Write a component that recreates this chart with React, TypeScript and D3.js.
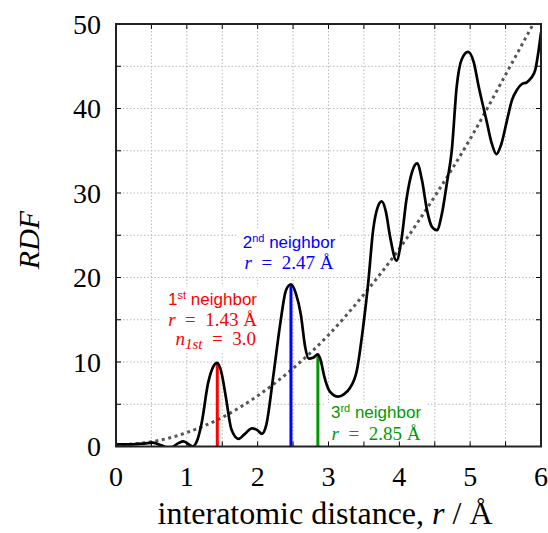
import React from "react";
import * as d3 from "d3";

// Radial distribution function, r in Å
const rdfR = [
  0.0, 0.2, 0.4, 0.52, 0.65, 0.76, 0.88, 0.95, 1.02, 1.08, 1.15, 1.21, 1.3, 1.37, 1.43, 1.49,
  1.55, 1.63, 1.73, 1.82, 1.92, 2.0, 2.06, 2.12, 2.22, 2.32, 2.4, 2.47, 2.54, 2.61, 2.67, 2.72,
  2.78, 2.85, 2.89, 2.94, 3.02, 3.14, 3.22, 3.3, 3.4, 3.49, 3.56, 3.63, 3.69, 3.75, 3.81, 3.87,
  3.96, 4.03, 4.1, 4.18, 4.25, 4.32, 4.39, 4.46, 4.53, 4.6, 4.67, 4.74, 4.81, 4.88, 4.97, 5.05,
  5.12, 5.23, 5.3, 5.37, 5.44, 5.52, 5.59, 5.66, 5.73, 5.8, 5.86, 5.92, 5.96, 6.0,
];
const rdfG = [
  0.25, 0.25, 0.35, 0.45, 0.1, -0.2, 0.4, 0.6, 0.3, 0.0, 0.8, 2.8, 7.5, 9.4, 9.9, 8.7,
  5.9, 2.0, 0.9, 1.5, 2.15, 1.9, 1.5, 2.5, 8.3, 14.6, 18.5, 19.2, 18.1, 15.6, 11.8, 10.4,
  10.5, 10.9, 10.2, 8.3, 6.5, 5.9, 6.2, 6.9, 9.0, 14.2, 19.3, 25.6, 28.2, 29.0, 27.8, 24.8,
  22.0, 24.5, 29.2, 32.5, 33.5, 31.5, 28.0, 26.0, 25.6, 27.5, 31.1, 35.0, 42.6, 45.8, 46.7, 45.5,
  42.6, 38.6, 36.0, 34.6, 35.8, 38.6, 41.0, 42.2, 42.9, 43.1, 43.6, 44.6, 46.5, 49.0,
];

// Reference (ideal density) curve
const refR = [0, 0.5, 1, 1.5, 2, 2.5, 3, 3.5, 4, 4.5, 5, 5.5, 5.89];
const refG = [0.2, 0.55, 1.65, 3.45, 6.0, 9.25, 13.2, 18.0, 23.4, 29.6, 36.4, 44.0, 50];

// Neighbor shells
const neighborR = [1.43, 2.47, 2.85];
const neighborPeak = [9.9, 19.2, 10.9];

const xTicks = [0, 1, 2, 3, 4, 5, 6];
const yTicks = [0, 10, 20, 30, 40, 50];
const xGrid = d3.range(0, 6.01, 0.5);
const yGrid = d3.range(0, 50.1, 5);

const W = 548;
const H = 533;
const L = 116;
const R = 541;
const T = 24;
const B = 446.5;

export default function App() {
  const x = d3.scaleLinear().domain([0, 6]).range([L, R]);
  const y = d3.scaleLinear().domain([0, 50]).range([B, T]);

  const rdfLine = d3
    .line<number>()
    .x((_, i) => x(rdfR[i]))
    .y((d) => y(d))
    .curve(d3.curveMonotoneX)(rdfG) as string;

  const refLine = d3
    .line<number>()
    .x((_, i) => x(refR[i]))
    .y((d) => y(d))
    .curve(d3.curveMonotoneX)(refG) as string;

  const colors = ["#ff0000", "#0000ff", "#009a00"];
  const sans = "'Liberation Sans', Arial, sans-serif";
  const serif = "'Liberation Serif', 'Times New Roman', serif";
  const tick = 5;

  return (
    <svg
      width={W}
      height={H}
      style={{ position: "fixed", left: 0, top: 0, background: "#fff" }}
    >
      <defs>
        <clipPath id="plot">
          <rect x={L} y={T} width={R - L} height={B - T} />
        </clipPath>
      </defs>

      {/* grid */}
      <g stroke="#b8b8b8" strokeWidth={1} strokeDasharray="1.5 2">
        {xGrid.map((v) => (
          <line key={"gx" + v} x1={x(v)} x2={x(v)} y1={T} y2={B} />
        ))}
        {yGrid.map((v) => (
          <line key={"gy" + v} x1={L} x2={R} y1={y(v)} y2={y(v)} />
        ))}
      </g>

      {/* label backgrounds */}
      <g fill="#fff">
        <rect x={161} y={287} width={99} height={64} />
        <rect x={238} y={229} width={101} height={48} />
        <rect x={326} y={403} width={100} height={42} />
      </g>

      <g clipPath="url(#plot)">
        <path
          d={refLine}
          fill="none"
          stroke="#555"
          strokeWidth={3}
          strokeDasharray="3 3.6"
        />
        {neighborR.map((r, i) => (
          <line
            key={"n" + i}
            x1={x(r)}
            x2={x(r)}
            y1={y(0)}
            y2={y(neighborPeak[i])}
            stroke={colors[i]}
            strokeWidth={3}
          />
        ))}
        <path d={rdfLine} fill="none" stroke="#000" strokeWidth={2.7} strokeLinejoin="round" />
      </g>

      {/* ticks on all four sides */}
      <g stroke="#000" strokeWidth={1}>
        {xGrid.map((v) => (
          <g key={"tx" + v}>
            <line x1={x(v)} x2={x(v)} y1={B} y2={B - tick} />
            <line x1={x(v)} x2={x(v)} y1={T} y2={T + tick} />
          </g>
        ))}
        {yGrid.map((v) => (
          <g key={"ty" + v}>
            <line x1={L} x2={L + tick} y1={y(v)} y2={y(v)} />
            <line x1={R} x2={R - tick} y1={y(v)} y2={y(v)} />
          </g>
        ))}
      </g>

      <rect x={L} y={T} width={R - L} height={B - T} fill="none" stroke="#222" strokeWidth={2} />

      {/* tick labels */}
      <g fontFamily={serif} fontSize={28} fill="#000">
        {xTicks.map((v) => (
          <text key={"lx" + v} x={x(v)} y={486} textAnchor="middle">
            {v}
          </text>
        ))}
        {yTicks.map((v) => (
          <text key={"ly" + v} x={101} y={y(v) + 9.5} textAnchor="end">
            {v}
          </text>
        ))}
      </g>

      {/* axis titles */}
      <text x={325} y={524} textAnchor="middle" fontFamily={serif} fontSize={32}>
        interatomic distance, <tspan fontStyle="italic">r</tspan> / Å
      </text>
      <text
        transform="translate(39,240) rotate(-90)"
        textAnchor="middle"
        fontFamily={serif}
        fontStyle="italic"
        fontSize={30}
      >
        RDF
      </text>

      {/* 1st neighbor */}
      <g fill={colors[0]} textAnchor="end">
        <text x={257} y={305} fontFamily={sans} fontSize={17}>
          1<tspan fontSize={11} dy={-6}>st</tspan>
          <tspan dy={6}> neighbor</tspan>
        </text>
        <text x={257} y={326} fontFamily={serif} fontSize={19}>
          <tspan fontStyle="italic">r</tspan>{"\u2002=\u2002"}1.43 Å
        </text>
        <text x={256} y={345} fontFamily={serif} fontSize={19}>
          <tspan fontStyle="italic">n</tspan>
          <tspan fontStyle="italic" fontSize={15} dy={4}>1st</tspan>
          <tspan dy={-4}>{"\u2002=\u2002"}3.0</tspan>
        </text>
      </g>

      {/* 2nd neighbor */}
      <g fill={colors[1]} textAnchor="middle">
        <text x={289} y={248} fontFamily={sans} fontSize={17}>
          2<tspan fontSize={11} dy={-6}>nd</tspan>
          <tspan dy={6}> neighbor</tspan>
        </text>
        <text x={289} y={269} fontFamily={serif} fontSize={19}>
          <tspan fontStyle="italic">r</tspan>{"\u2002=\u2002"}2.47 Å
        </text>
      </g>

      {/* 3rd neighbor */}
      <g fill={colors[2]} textAnchor="middle">
        <text x={376} y={418} fontFamily={sans} fontSize={17}>
          3<tspan fontSize={11} dy={-6}>rd</tspan>
          <tspan dy={6}> neighbor</tspan>
        </text>
        <text x={376} y={440} fontFamily={serif} fontSize={19}>
          <tspan fontStyle="italic">r</tspan>{"\u2002=\u2002"}2.85 Å
        </text>
      </g>
    </svg>
  );
}
